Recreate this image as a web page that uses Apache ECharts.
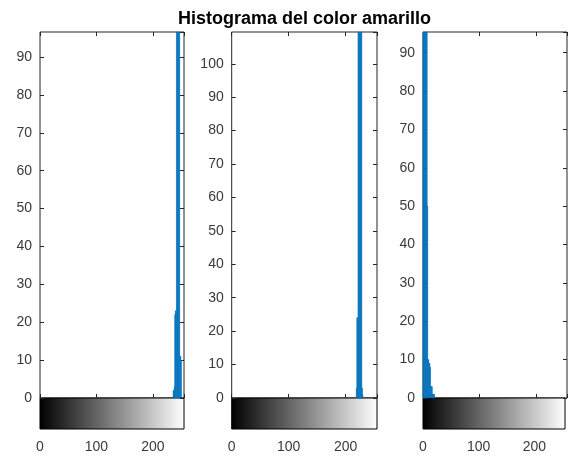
<!DOCTYPE html>
<html>
<head>
<meta charset="utf-8">
<script src="https://cdn.jsdelivr.net/npm/echarts@6/dist/echarts.min.js"></script>
<style>
  html, body { margin: 0; padding: 0; background: #fff; }
  #chart { width: 568px; height: 457px; }
</style>
</head>
<body>
<div id="chart"></div>
<script>
// ---- Data ----
const titleText = 'Histograma del color amarillo';
const xTickLabels = [0, 100, 200];
const yMax = [96.6, 109.5, 95.4];

// Panel 1: intensity bins and pixel counts
const bins1 = [236, 237, 238, 239, 240, 241, 242, 243, 244, 245, 246, 247, 248, 249, 250];
const counts1 = [2, 2, 3, 22, 23, 23, 400, 900, 1500, 1200, 700, 300, 11, 11, 10];

// Panel 2
const bins2 = [219, 220, 221, 222, 223, 224, 225, 226, 227, 228, 229, 230];
const counts2 = [3, 24, 24, 500, 1200, 1800, 1500, 900, 400, 200, 3, 1];

// Panel 3
const bins3 = [0, 1, 2, 3, 4, 5, 6, 7, 8, 9, 10, 11, 12, 13, 14, 15, 16, 17, 18, 19, 20];
const counts3 = [300, 900, 1500, 1800, 1200, 700, 300, 200, 50, 10, 10, 9, 9, 8, 3, 3, 3, 1, 1, 1, 1];

const panels = [
  { bins: bins1, counts: counts1 },
  { bins: bins2, counts: counts2 },
  { bins: bins3, counts: counts3 }
];

// ---- Layout ----
const lefts = [40, 231.7, 423];
const widths = [144, 145.3, 144];
const mainTop = 32, mainHeight = 366;
const cbTop = 398, cbHeight = 31;

const FONT = "'Liberation Sans', Arial, Helvetica, sans-serif";
const labelColor = '#3a3a3a';
const axisColor = '#262626';
const barColor = '#0072BD';

const chart = echarts.init(document.getElementById('chart'), null, { renderer: 'canvas' });
const grid = [], xAxis = [], yAxis = [], series = [];

function renderBar(params, api) {
  const x = api.value(0), y = api.value(1);
  const p0 = api.coord([x - 0.5, y]);
  const p1 = api.coord([x + 0.5, 0]);
  const cs = params.coordSys;
  const r = echarts.graphic.clipRectByRect(
    { x: p0[0], y: p0[1], width: p1[0] - p0[0], height: p1[1] - p0[1] },
    { x: cs.x, y: cs.y, width: cs.width, height: cs.height }
  );
  return r && { type: 'rect', shape: r, style: { fill: barColor, stroke: barColor, lineWidth: 0.4 } };
}

const hideNonTick = v => (xTickLabels.indexOf(v) >= 0 ? String(v) : '');
const tick = () => ({ show: true, inside: true, length: 4, lineStyle: { color: axisColor, width: 1 } });
const noLine = () => ({ show: false, onZero: false });

panels.forEach((p, i) => {
  const gMain = grid.length;
  grid.push({ left: lefts[i], top: mainTop, width: widths[i], height: mainHeight,
    show: true, borderColor: axisColor, borderWidth: 1, backgroundColor: '#fff' });
  const gCb = grid.length;
  grid.push({ left: lefts[i], top: cbTop, width: widths[i], height: cbHeight,
    show: true, borderColor: '#000', borderWidth: 1,
    backgroundColor: new echarts.graphic.LinearGradient(0, 0, 1, 0, [
      { offset: 0, color: '#000000' }, { offset: 1, color: '#ffffff' }]) });

  const xMainIdx = xAxis.length;
  xAxis.push({ type: 'value', gridIndex: gMain, min: 0, max: 255, interval: 100, position: 'bottom',
    axisLine: noLine(), axisLabel: { show: false }, axisTick: tick(), splitLine: { show: false } });
  xAxis.push({ type: 'value', gridIndex: gMain, min: 0, max: 255, interval: 100, position: 'top',
    axisLine: noLine(), axisLabel: { show: false }, axisTick: tick(), splitLine: { show: false } });
  xAxis.push({ type: 'value', gridIndex: gCb, min: 0, max: 255, interval: 100, position: 'bottom',
    axisLine: noLine(), axisTick: { show: false }, splitLine: { show: false },
    axisLabel: { show: true, margin: 11, color: labelColor, fontSize: 14, fontFamily: FONT, formatter: hideNonTick } });

  const yMainIdx = yAxis.length;
  const yFmt = v => (Math.abs(v - Math.round(v / 10) * 10) < 1e-6 ? String(v) : '');
  yAxis.push({ type: 'value', gridIndex: gMain, min: 0, max: yMax[i], interval: 10, position: 'left',
    axisLine: noLine(), axisTick: tick(),
    axisLabel: { show: true, margin: 8, color: labelColor, fontSize: 14, fontFamily: FONT, formatter: yFmt, showMaxLabel: false },
    splitLine: { show: false } });
  yAxis.push({ type: 'value', gridIndex: gMain, min: 0, max: yMax[i], interval: 10, position: 'right',
    axisLine: noLine(), axisTick: tick(), axisLabel: { show: false }, splitLine: { show: false } });
  yAxis.push({ type: 'value', gridIndex: gCb, min: 0, max: 1, show: false });

  series.push({ type: 'custom', xAxisIndex: xMainIdx, yAxisIndex: yMainIdx, renderItem: renderBar,
    data: p.bins.map((b, k) => [b, p.counts[k]]), silent: true, z: 1 });
});

chart.setOption({
  animation: false, backgroundColor: '#ffffff',
  title: { text: titleText, left: 299.5, top: 5, textAlign: 'center',
    textStyle: { fontSize: 18, fontWeight: 'bold', color: '#000', fontFamily: FONT } },
  grid, xAxis, yAxis, series
});
</script>
</body>
</html>
